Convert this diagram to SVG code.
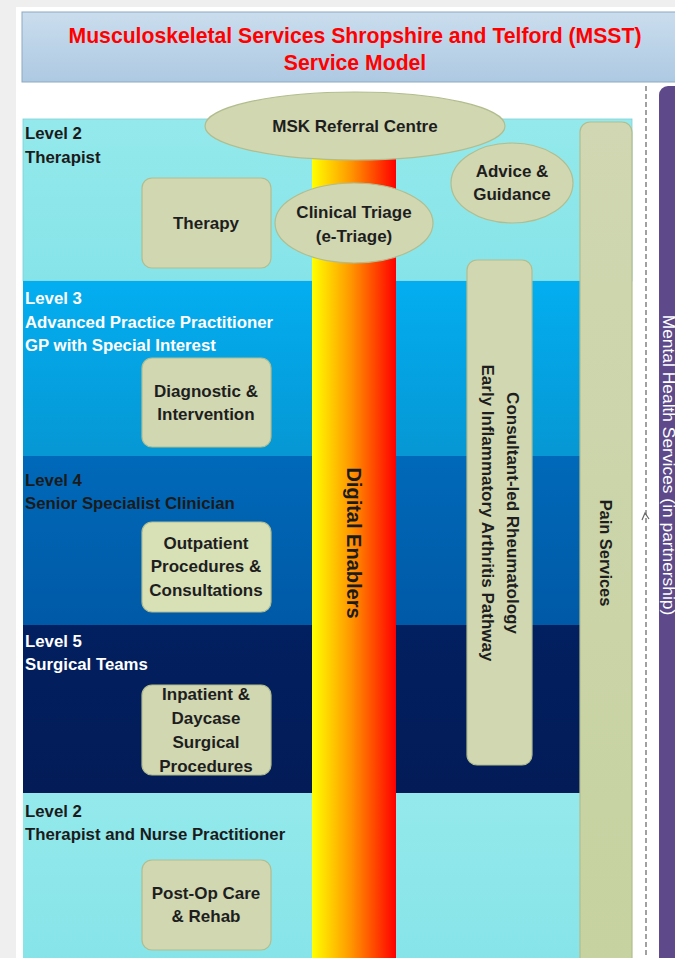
<svg xmlns="http://www.w3.org/2000/svg" width="675" height="958" viewBox="0 0 675 958">
<defs>
<linearGradient id="gTitle" x1="0" y1="0" x2="0" y2="1"><stop offset="0" stop-color="#cadded"/><stop offset="1" stop-color="#adc9e2"/></linearGradient>
<linearGradient id="gCyan" x1="0" y1="0" x2="0" y2="1"><stop offset="0" stop-color="#94e9ec"/><stop offset="1" stop-color="#86e4e8"/></linearGradient>
<linearGradient id="gL3" x1="0" y1="0" x2="0" y2="1"><stop offset="0" stop-color="#03aef0"/><stop offset="1" stop-color="#0697d4"/></linearGradient>
<linearGradient id="gL4" x1="0" y1="0" x2="0" y2="1"><stop offset="0" stop-color="#0069b9"/><stop offset="1" stop-color="#0059a6"/></linearGradient>
<linearGradient id="gL5" x1="0" y1="0" x2="0" y2="1"><stop offset="0" stop-color="#021f5f"/><stop offset="1" stop-color="#031c58"/></linearGradient>
<linearGradient id="gBar" x1="0" y1="0" x2="1" y2="0"><stop offset="0" stop-color="#ffff00"/><stop offset="0.45" stop-color="#ff9a00"/><stop offset="1" stop-color="#ff0000"/></linearGradient>
<linearGradient id="gPain" x1="0" y1="0" x2="0" y2="1"><stop offset="0" stop-color="#d0d7b2"/><stop offset="1" stop-color="#c6d29f"/></linearGradient>
</defs>
<style>
.lbl{font-family:"Liberation Sans",Arial,sans-serif;font-weight:bold;font-size:16.8px}
.dk{fill:#1b1b1b}
.wt{fill:#ffffff}
.node{fill:#d0d7b1;stroke:#b2bd8e;stroke-width:1.2}
.nt{font-family:"Liberation Sans",Arial,sans-serif;font-weight:bold;font-size:17px;fill:#1e1e1e;text-anchor:middle}
</style>
<rect x="0" y="0" width="675" height="958" fill="#efefef"/>
<rect x="16" y="7" width="659" height="951" fill="#ffffff"/>
<g id="title">
<rect x="22" y="12" width="670" height="70" fill="url(#gTitle)" stroke="#8ea9c2" stroke-width="1"/>
<text x="355" y="43" font-family="Liberation Sans,Arial,sans-serif" font-weight="bold" font-size="21.2" fill="#ff0000" text-anchor="middle">Musculoskeletal Services Shropshire and Telford (MSST)</text>
<text x="355" y="70" font-family="Liberation Sans,Arial,sans-serif" font-weight="bold" font-size="21.2" fill="#ff0000" text-anchor="middle">Service Model</text>
</g>
<g id="bands">
<rect x="23" y="119" width="609" height="162" fill="url(#gCyan)" stroke="#7fcfd4" stroke-width="0.8"/>
<rect x="23" y="281" width="609" height="175" fill="url(#gL3)"/>
<rect x="23" y="456" width="609" height="169" fill="url(#gL4)"/>
<rect x="23" y="625" width="609" height="168" fill="url(#gL5)"/>
<rect x="23" y="793" width="609" height="170" fill="url(#gCyan)"/>
</g>
<g id="levels">
<text class="lbl dk" x="25" y="139">Level 2</text>
<text class="lbl dk" x="25" y="163">Therapist</text>
<text class="lbl wt" x="25" y="304">Level 3</text>
<text class="lbl wt" x="25" y="328">Advanced Practice Practitioner</text>
<text class="lbl wt" x="25" y="351">GP with Special Interest</text>
<text class="lbl dk" x="25" y="486">Level 4</text>
<text class="lbl dk" x="25" y="509">Senior Specialist Clinician</text>
<text class="lbl wt" x="25" y="647">Level 5</text>
<text class="lbl wt" x="25" y="670">Surgical Teams</text>
<text class="lbl dk" x="25" y="817">Level 2</text>
<text class="lbl dk" x="25" y="840">Therapist and Nurse Practitioner</text>
</g>
<g id="digital-enablers">
<rect x="312" y="140" width="84" height="818" fill="url(#gBar)"/>
<text transform="translate(347,543) rotate(90)" font-family="Liberation Sans,Arial,sans-serif" font-weight="bold" font-size="20" fill="#1b1b1b" text-anchor="middle">Digital Enablers</text>
</g>
<g id="msk-referral-centre">
<ellipse class="node" cx="355" cy="126" rx="150" ry="34"/>
<text class="nt" x="355" y="132">MSK Referral Centre</text>
</g>
<g id="clinical-triage">
<ellipse class="node" cx="354" cy="223" rx="79" ry="40"/>
<text class="nt" x="354" y="218">Clinical Triage</text>
<text class="nt" x="354" y="242">(e-Triage)</text>
</g>
<g id="advice-guidance">
<ellipse class="node" cx="512" cy="183" rx="61" ry="40"/>
<text class="nt" x="512" y="177">Advice &amp;</text>
<text class="nt" x="512" y="200">Guidance</text>
</g>
<g id="therapy">
<rect class="node" x="142" y="178" width="129" height="90" rx="10"/>
<text class="nt" x="206" y="229">Therapy</text>
</g>
<g id="diagnostic">
<rect class="node" x="142" y="358" width="129" height="89" rx="10"/>
<text class="nt" x="206" y="397">Diagnostic &amp;</text>
<text class="nt" x="206" y="420">Intervention</text>
</g>
<g id="outpatient">
<rect class="node" x="142" y="522" width="129" height="90" rx="10" style="fill:#d8e0b6"/>
<text class="nt" x="206" y="549">Outpatient</text>
<text class="nt" x="206" y="572">Procedures &amp;</text>
<text class="nt" x="206" y="596">Consultations</text>
</g>
<g id="inpatient">
<rect class="node" x="142" y="685" width="129" height="90" rx="10"/>
<text class="nt" x="206" y="700">Inpatient &amp;</text>
<text class="nt" x="206" y="724">Daycase</text>
<text class="nt" x="206" y="748">Surgical</text>
<text class="nt" x="206" y="772">Procedures</text>
</g>
<g id="post-op">
<rect class="node" x="142" y="860" width="129" height="90" rx="10"/>
<text class="nt" x="206" y="899">Post-Op Care</text>
<text class="nt" x="206" y="922">&amp; Rehab</text>
</g>
<g id="rheumatology">
<rect class="node" x="467" y="260" width="65" height="505" rx="10"/>
<text transform="translate(507,513) rotate(90)" class="nt">Consultant-led Rheumatology</text>
<text transform="translate(482,513) rotate(90)" class="nt">Early Inflammatory Arthritis Pathway</text>
</g>
<g id="pain-services">
<rect x="580" y="122" width="52" height="850" rx="10" fill="url(#gPain)" stroke="#b2bd8e" stroke-width="1.2"/>
<text transform="translate(600,553) rotate(90)" class="nt" style="font-size:16.4px">Pain Services</text>
</g>
<g id="connectors">
<line x1="646" y1="86" x2="646" y2="958" stroke="#8a8a8a" stroke-width="1.6" stroke-dasharray="5,3"/>
<path d="M642,520 L645,513 L649,519" fill="none" stroke="#666" stroke-width="1.2"/>
</g>
<g id="mental-health">
<rect x="659" y="86" width="40" height="890" rx="9" fill="#5e4a8a"/>
<text transform="translate(663,465) rotate(90)" font-family="Liberation Sans,Arial,sans-serif" font-size="17.4" fill="#ffffff" text-anchor="middle">Mental Health Services (in partnership)</text>
</g>
</svg>
